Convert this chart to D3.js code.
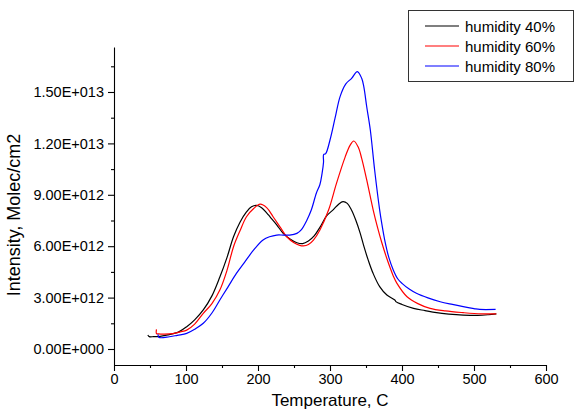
<!DOCTYPE html>
<html>
<head>
<meta charset="utf-8">
<script src="https://cdn.jsdelivr.net/npm/d3@7"></script>
<style>
  html, body { margin: 0; padding: 0; background: #fff; }
  svg { display: block; font-family: "Liberation Sans", Arial, sans-serif; }
</style>
</head>
<body>
<svg id="chart" width="574" height="419"></svg>
<script>
// ---- data (Temperature in C, Intensity in Molec/cm2) ----
const seriesNames = ["humidity 40%", "humidity 60%", "humidity 80%"];
const seriesColors = ["#000000", "#ff0000", "#0000ff"];

const temp40 = [47, 49, 55, 64, 75, 90, 101, 112, 124, 136, 147, 157, 166, 175, 184, 191, 198, 205, 212, 217, 226, 235, 245, 254, 262, 270, 278, 286, 295, 305, 312, 318, 324, 330, 336, 342, 347, 353, 360, 369, 379, 390, 392, 400, 416, 432, 448, 465, 485, 505, 520, 531];
const int40 = [0.82, 0.72, 0.72, 0.74, 0.82, 1.0, 1.3, 1.7, 2.28, 3.1, 4.2, 5.35, 6.55, 7.4, 8.0, 8.3, 8.38, 8.25, 7.95, 7.7, 7.25, 6.75, 6.4, 6.2, 6.15, 6.3, 6.6, 7.1, 7.75, 8.15, 8.45, 8.6, 8.5, 8.1, 7.5, 6.75, 6.0, 5.2, 4.4, 3.64, 3.15, 2.86, 2.75, 2.6, 2.37, 2.24, 2.12, 2.04, 1.98, 1.96, 2.0, 2.05].map(v => v * 1e12);

const temp60 = [59, 59, 62, 70, 82, 92, 101, 112, 124, 136, 147, 157, 166, 175, 184, 194, 203, 212, 221, 231, 240, 250, 258, 263, 270, 277, 286, 298, 309, 321, 328, 333, 339, 344, 351, 360, 366, 372, 378, 383, 388, 393, 407, 422, 439, 460, 485, 510, 531];
const int60 = [1.15, 0.9, 0.88, 0.87, 0.9, 1.0, 1.1, 1.45, 2.08, 2.65, 3.44, 4.6, 5.97, 6.9, 7.72, 8.2, 8.45, 8.25, 7.72, 7.1, 6.55, 6.2, 6.05, 6.02, 6.1, 6.36, 6.95, 8.11, 9.67, 11.2, 11.9, 12.14, 11.8, 11.13, 9.87, 8.11, 7.1, 6.2, 5.4, 4.8, 4.25, 3.83, 3.05, 2.65, 2.37, 2.22, 2.12, 2.05, 2.05].map(v => v * 1e12);

const temp80 = [61, 62, 64, 75, 88, 101, 112, 124, 136, 147, 158, 170, 182, 194, 207, 216, 226, 235, 244, 254, 260, 268, 274, 281, 286, 289, 291, 291.2, 294, 300, 307, 314, 322, 330, 338, 344, 347, 351, 356, 362, 369, 372, 376, 382, 388, 394, 400, 410, 420, 436, 453, 470, 485, 500, 508, 530];
const int80 = [0.85, 0.7, 0.66, 0.7, 0.8, 0.91, 1.15, 1.5, 2.1, 2.86, 3.6, 4.41, 5.1, 5.78, 6.36, 6.55, 6.65, 6.65, 6.65, 6.75, 6.95, 7.53, 8.11, 9.09, 9.6, 10.25, 10.9, 11.35, 11.4, 12.2, 13.47, 14.73, 15.47, 15.8, 16.19, 15.8, 15.3, 14.14, 12.78, 10.45, 8.11, 7.3, 6.36, 5.3, 4.6, 4.1, 3.83, 3.5, 3.25, 2.98, 2.76, 2.6, 2.47, 2.36, 2.31, 2.31].map(v => v * 1e12);

const xTicks = [0, 100, 200, 300, 400, 500, 600];
const xMinorTicks = [50, 150, 250, 350, 450, 550];
const yTicks = [0, 3e12, 6e12, 9e12, 12e12, 15e12];
const yMinorTicks = [1.5e12, 4.5e12, 7.5e12, 10.5e12, 13.5e12, 16.5e12];

const xTitle = "Temperature, C";
const yTitle = "Intensity, Molec/cm2";

// ---- chart ----
const svg = d3.select("#chart");
const x = d3.scaleLinear().domain([0, 600]).range([114, 546]);
const y = d3.scaleLinear().domain([-0.934e12, 17.626e12]).range([365, 47]);

function sciFmt(v) {
  if (v === 0) return "0.00E+000";
  const e = Math.floor(Math.log10(Math.abs(v)) + 1e-9);
  const m = v / Math.pow(10, e);
  return m.toFixed(2) + "E+" + String(e).padStart(3, "0");
}

// x axis
const gx = svg.append("g").attr("transform", "translate(0,365)");
gx.call(d3.axisBottom(x).tickValues(xTicks).tickSize(6).tickSizeOuter(0).tickPadding(3).tickFormat(d3.format("d")));
const gxm = svg.append("g").attr("transform", "translate(0,365)");
gxm.call(d3.axisBottom(x).tickValues(xMinorTicks).tickSize(3).tickSizeOuter(0).tickFormat(""));
gxm.select(".domain").remove();

// y axis
const gy = svg.append("g").attr("transform", "translate(114,0)");
gy.call(d3.axisLeft(y).tickValues(yTicks).tickSize(6).tickSizeOuter(0).tickPadding(4).tickFormat(sciFmt));
const gym = svg.append("g").attr("transform", "translate(114,0)");
gym.call(d3.axisLeft(y).tickValues(yMinorTicks).tickSize(3).tickSizeOuter(0).tickFormat(""));
gym.select(".domain").remove();

svg.selectAll(".tick text").attr("font-size", 14.5).attr("fill", "#000")
  .attr("font-family", "'Liberation Sans', Arial, sans-serif");
svg.selectAll(".domain, .tick line").attr("stroke", "#000").attr("stroke-width", 1.1);

// titles
svg.append("text").attr("x", 330).attr("y", 406).attr("text-anchor", "middle")
  .attr("font-size", 17).text(xTitle);
svg.append("text").attr("transform", "translate(20,215) rotate(-90)").attr("text-anchor", "middle")
  .attr("font-size", 18).text(yTitle);

// lines
const line = d3.line().x(d => x(d[0])).y(d => y(d[1])).curve(d3.curveCatmullRom.alpha(0.5));
const allSeries = [
  d3.zip(temp40, int40),
  d3.zip(temp60, int60),
  d3.zip(temp80, int80)
];
allSeries.forEach((s, i) => {
  svg.append("path").datum(s).attr("d", line).attr("fill", "none")
    .attr("stroke", seriesColors[i]).attr("stroke-width", 1.2);
});

// legend
const lg = svg.append("g");
lg.append("rect").attr("x", 408.5).attr("y", 10.5).attr("width", 165).attr("height", 71)
  .attr("fill", "#fff").attr("stroke", "#333").attr("stroke-width", 1);
seriesNames.forEach((n, i) => {
  const ly = 26 + i * 20;
  lg.append("line").attr("x1", 425).attr("x2", 459).attr("y1", ly).attr("y2", ly)
    .attr("stroke", seriesColors[i]).attr("stroke-width", 1.2);
  lg.append("text").attr("x", 465).attr("y", ly + 5.5).attr("font-size", 15).text(n);
});
</script>
</body>
</html>
